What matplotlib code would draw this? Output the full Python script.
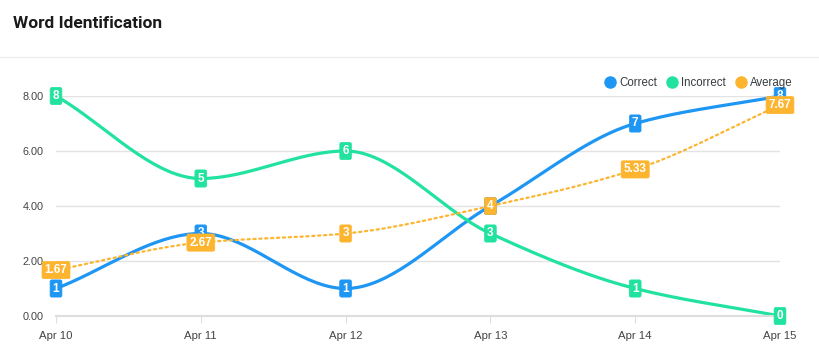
import numpy as np
import matplotlib
matplotlib.use("Agg")
from matplotlib import pyplot as plt
from matplotlib.lines import Line2D

# ------------------------------------------------------------------ data
dates = ["Apr 10", "Apr 11", "Apr 12", "Apr 13", "Apr 14", "Apr 15"]
correct = [1, 3, 1, 4, 7, 8]
incorrect = [8, 5, 6, 3, 1, 0]
average = [1.67, 2.67, 3, 4, 5.33, 7.67]
y_ticks = [0, 2, 4, 6, 8]

BLUE = "#1E96F4"
GREEN = "#22E29F"
ORANGE = "#FDB42E"


def smooth(y, n=40):
    """monotone cubic (pchip-like) curve through the points"""
    y = np.asarray(y, dtype=float)
    x = np.arange(len(y), dtype=float)
    d = np.diff(y)
    m = np.zeros_like(y)
    for i in range(1, len(y) - 1):
        if d[i - 1] * d[i] > 0:
            m[i] = 2.0 / (1.0 / d[i - 1] + 1.0 / d[i])
    m[0], m[-1] = d[0], d[-1]
    xs, ys = [], []
    for i in range(len(y) - 1):
        t = np.linspace(0, 1, n)
        h00 = 2 * t**3 - 3 * t**2 + 1
        h10 = t**3 - 2 * t**2 + t
        h01 = -2 * t**3 + 3 * t**2
        h11 = t**3 - t**2
        xs.append(x[i] + t)
        ys.append(h00 * y[i] + h10 * m[i] + h01 * y[i + 1] + h11 * m[i + 1])
    return np.concatenate(xs), np.concatenate(ys)


def fmt(v):
    return ("%.2f" % v).rstrip("0").rstrip(".")


plt.rcParams["font.family"] = ["Liberation Sans", "DejaVu Sans"]

fig = plt.figure(figsize=(8.2, 3.64), dpi=100)
W, H = 820.0, 364.0
ax = fig.add_axes([56 / W, 48 / H, 724 / W, 220 / H])

fig.text(13 / W, 1 - 24 / H, "Word Identification", family="Roboto",
         fontweight="bold", fontsize=12.5, color="#1a1a1a", va="center")
fig.add_artist(Line2D([0, 1], [1 - 56.5 / H] * 2, color="#eeeeee", lw=1))

x = np.arange(len(dates))
series = [(correct, BLUE, "-", 2.3), (incorrect, GREEN, "-", 2.3),
          (average, ORANGE, ":", 1.6)]
for vals, col, ls, lw in series:
    xs, ys = smooth(vals)
    ax.plot(xs, ys, color=col, ls=ls, lw=lw, clip_on=False,
            solid_capstyle="round", dash_capstyle="round")

for vals, col, ls, lw in series:
    for xi, v in zip(x, vals):
        ax.text(xi, v, fmt(v), ha="center", va="center", color="white",
                fontsize=8.5, fontweight="bold", clip_on=False, zorder=5,
                bbox=dict(boxstyle="round,pad=0.22,rounding_size=0.15",
                          fc=col, ec=col, lw=0.5))

ax.set_xlim(0, 5)
ax.set_ylim(0, 8)
ax.set_yticks(y_ticks)
ax.set_yticklabels(["%.2f" % t for t in y_ticks])
ax.set_xticks(x)
ax.set_xticklabels(dates)
ax.grid(axis="y", color="#e3e3e3", lw=1)
ax.set_axisbelow(True)
for s in ["top", "right", "left"]:
    ax.spines[s].set_visible(False)
ax.spines["bottom"].set_color("#dddddd")
ax.spines["bottom"].set_linewidth(1.5)
ax.tick_params(axis="y", length=0, pad=9, labelsize=7.8, labelcolor="#444444")
ax.tick_params(axis="x", length=5, color="#dddddd", pad=6, labelsize=8.2,
               labelcolor="#444444")

handles = [Line2D([], [], marker="o", ls="", ms=8, color=c, label=l)
           for c, l in [(BLUE, "Correct"), (GREEN, "Incorrect"), (ORANGE, "Average")]]
fig.legend(handles=handles, loc="center right", bbox_to_anchor=(793 / W, 1 - 83 / H),
           ncol=3, frameon=False, handletextpad=0.3, handlelength=1.0,
           columnspacing=0.8, fontsize=8.3, labelcolor="#373d3f",
           borderpad=0, borderaxespad=0)

fig.savefig("out.png", dpi=100)
